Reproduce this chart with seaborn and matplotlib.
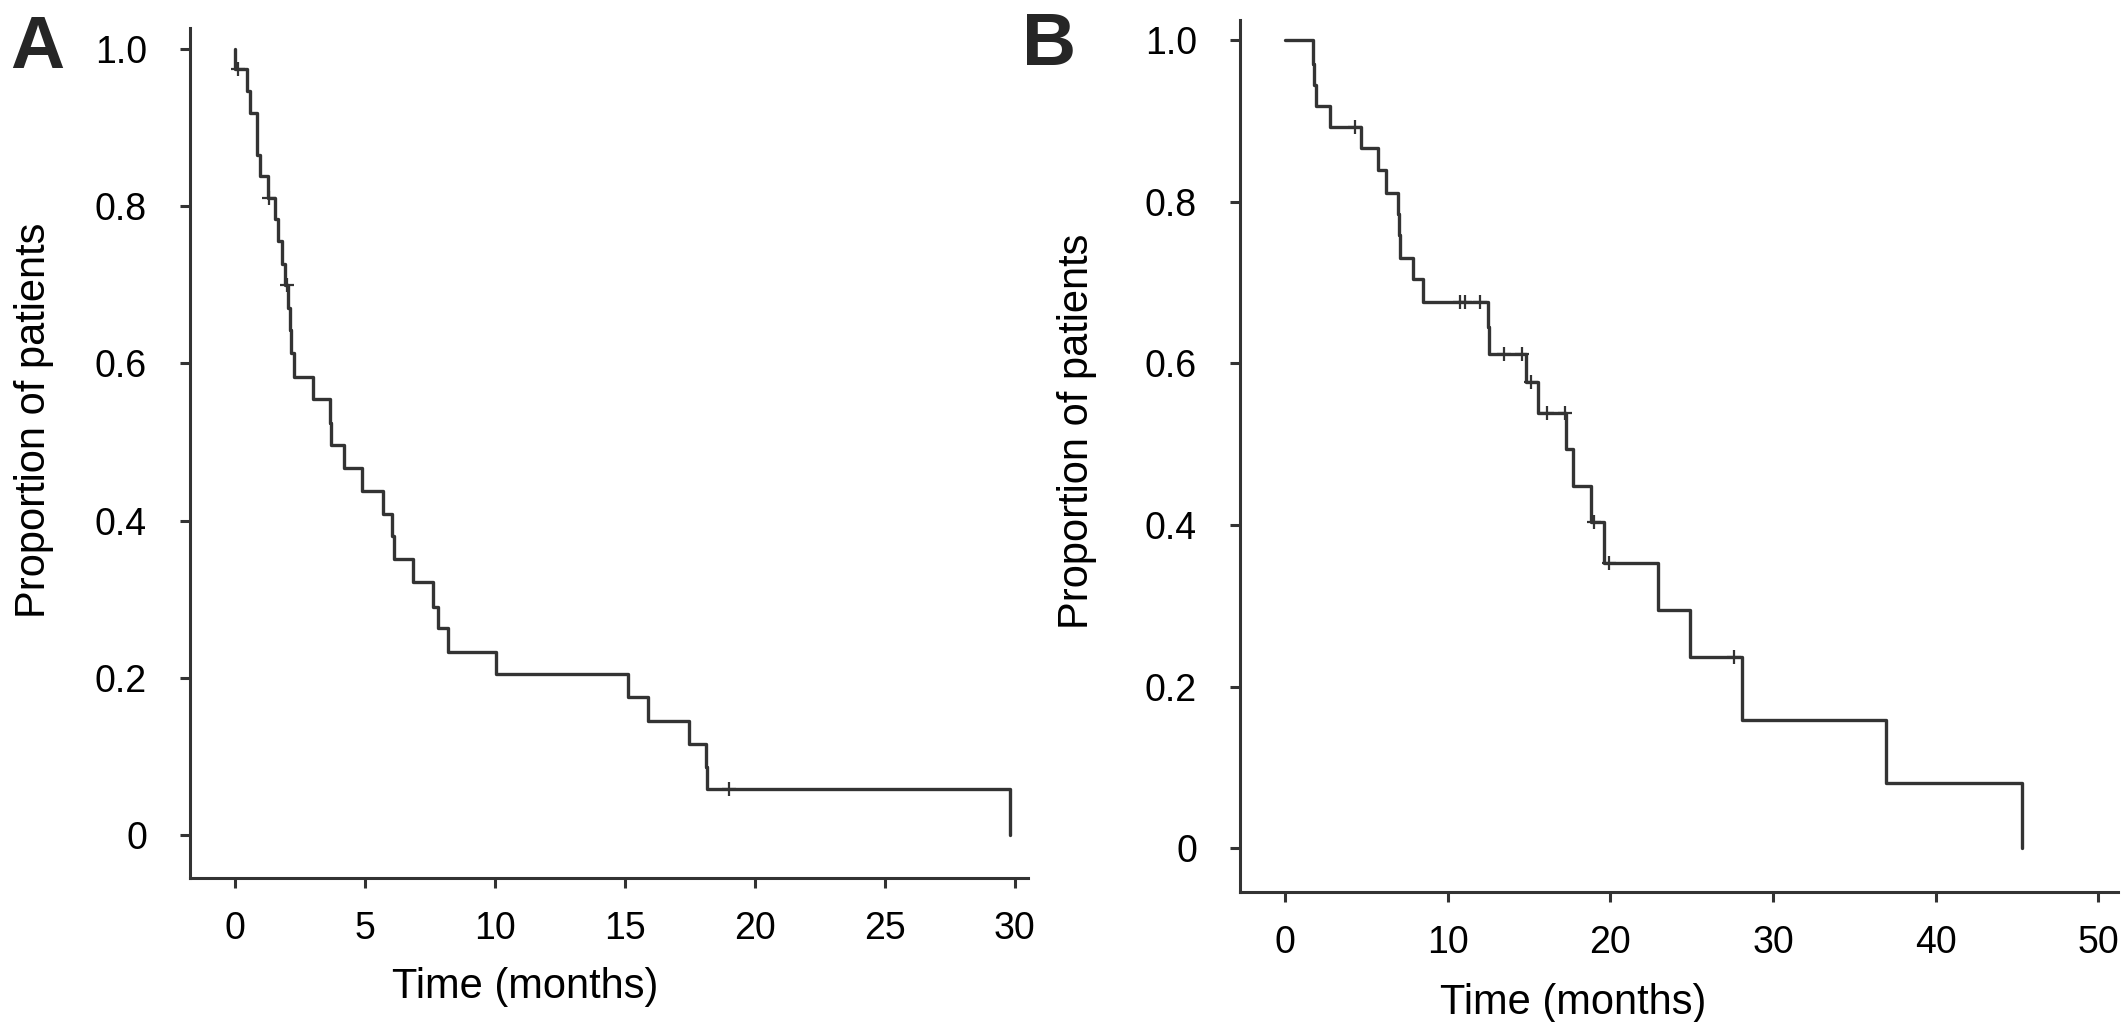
import matplotlib
matplotlib.use("Agg")
import matplotlib.pyplot as plt
import seaborn as sns
import pandas as pd

# ---------------- Panel A data ----------------
time_a = [0.0, 0.0, 0.47, 0.58, 0.83, 0.85, 0.96, 1.25, 1.54, 1.67, 1.80, 1.92,
          2.05, 2.12, 2.15, 2.27, 3.01, 3.65, 3.70, 4.19, 4.87, 5.70, 6.03, 6.10,
          6.83, 7.63, 7.80, 8.19, 10.04, 15.1, 15.9, 17.45, 18.10, 18.15, 29.8]
surv_a = [1.000, 0.975, 0.947, 0.919, 0.892, 0.865, 0.838, 0.811, 0.784, 0.756, 0.727, 0.700,
          0.670, 0.642, 0.613, 0.583, 0.555, 0.524, 0.496, 0.467, 0.438, 0.409, 0.380, 0.351,
          0.322, 0.290, 0.263, 0.233, 0.205, 0.175, 0.145, 0.116, 0.087, 0.058, 0.0]
cens_time_a = [0.13, 1.32, 1.99, 19.0]
cens_surv_a = [0.975, 0.811, 0.700, 0.058]
xticks_a = [0, 5, 10, 15, 20, 25, 30]

# ---------------- Panel B data ----------------
time_b = [0.0, 1.70, 1.80, 1.90, 2.76, 4.65, 5.69, 6.20, 6.96, 7.00, 7.05, 7.84, 8.46,
          12.49, 12.55, 14.80, 15.56, 17.26, 17.70, 18.84, 19.60, 22.90, 24.90, 28.10,
          36.96, 45.30]
surv_b = [1.000, 0.971, 0.944, 0.918, 0.893, 0.866, 0.839, 0.811, 0.785, 0.759, 0.730, 0.704, 0.676,
          0.645, 0.612, 0.577, 0.539, 0.494, 0.448, 0.404, 0.353, 0.295, 0.237, 0.159,
          0.081, 0.0]
cens_time_b = [4.3, 10.75, 11.06, 11.98, 13.45, 14.54, 15.1, 16.1, 17.2, 19.0, 19.9, 27.6]
cens_surv_b = [0.893, 0.676, 0.676, 0.676, 0.612, 0.612, 0.577, 0.539, 0.539, 0.404, 0.353, 0.237]
xticks_b = [0, 10, 20, 30, 40, 50]

yticks = [0, 0.2, 0.4, 0.6, 0.8, 1.0]
ytick_labels = ["0", "0.2", "0.4", "0.6", "0.8", "1.0"]

sns.set_theme(style="ticks")
plt.rcParams['font.family'] = ['Liberation Sans', 'DejaVu Sans']

INK = "#333333"
fig = plt.figure(figsize=(21.26, 10.22), dpi=100)
axA = fig.add_axes([0.0894, 0.1409, 0.3941, 0.8317])
axB = fig.add_axes([0.5833, 0.1275, 0.4129, 0.8529])


def draw(ax, t, s, ct, cs, xticks, xlim, ylim, xlab_x, ylab_xy):
    df = pd.DataFrame({"t": t, "s": s})
    sns.lineplot(data=df, x="t", y="s", drawstyle="steps-post", color=INK,
                 linewidth=2.4, estimator=None, sort=False, ax=ax)
    cdf = pd.DataFrame({"t": ct, "s": cs})
    sns.scatterplot(data=cdf, x="t", y="s", marker="+", s=110, color=INK,
                    linewidth=1.6, ax=ax, zorder=3)
    ax.set_xlim(*xlim)
    ax.set_ylim(*ylim)
    ax.set_xticks(xticks)
    ax.set_xticklabels([str(v) for v in xticks])
    ax.set_yticks(yticks)
    ax.set_yticklabels(ytick_labels)
    sns.despine(ax=ax)
    for sp in ("left", "bottom"):
        ax.spines[sp].set_linewidth(2.2)
        ax.spines[sp].set_color(INK)
    ax.tick_params(axis="both", length=7, width=2.2, color=INK,
                   labelsize=27, labelcolor="black")
    ax.tick_params(axis="y", pad=24)
    ax.tick_params(axis="x", pad=17)
    ax.set_xlabel("Time (months)", fontsize=30, color="black")
    ax.set_ylabel("Proportion of patients", fontsize=30, color="black")
    ax.xaxis.set_label_coords(xlab_x, -0.105)
    ax.yaxis.set_label_coords(*ylab_xy)
    ax.yaxis.label.set_verticalalignment("center")
    ax.xaxis.label.set_verticalalignment("top")


draw(axA, time_a, surv_a, cens_time_a, cens_surv_a, xticks_a,
     (-1.73, 30.5), (-0.0547, 1.0267), 0.40, (-0.186, 0.539))
draw(axB, time_b, surv_b, cens_time_b, cens_surv_b, xticks_b,
     (-2.76, 51.2), (-0.054, 1.025), 0.38, (-0.1857, 0.528))

fig.text(10 / 2126, 1 - 68 / 1022, "A", fontsize=54, fontweight="bold", va="baseline", ha="left")
fig.text(1022 / 2126, 1 - 65 / 1022, "B", fontsize=54, fontweight="bold", va="baseline", ha="left")

fig.savefig("out.png", dpi=100)
